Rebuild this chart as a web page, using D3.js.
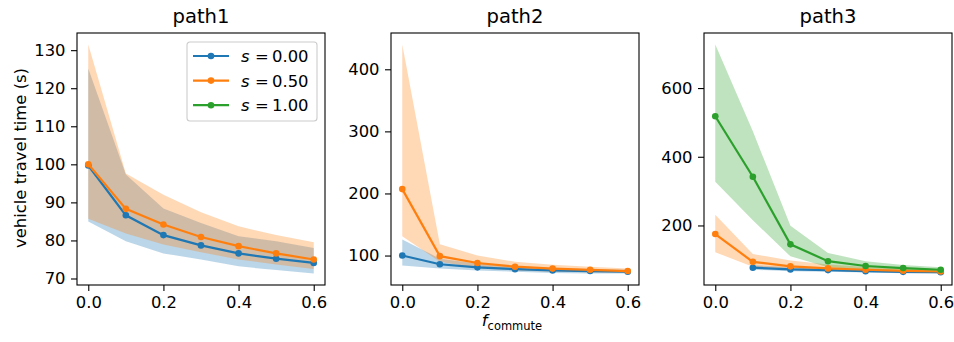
<!DOCTYPE html>
<html>
<head>
<meta charset="utf-8">
<script src="https://cdn.jsdelivr.net/npm/d3@7"></script>
<style>
  body { margin: 0; background: #fff; }
  text { font-family: "DejaVu Sans", sans-serif; fill: #000; }
</style>
</head>
<body>
<script>
// x values shared by every panel
const fCommute = [0, 0.1, 0.2, 0.3, 0.4, 0.5, 0.6];
const xTicks = [0, 0.2, 0.4, 0.6];

// path1
const p1_s0_mean = [99.7, 86.6, 81.4, 78.7, 76.6, 75.2, 74.1];
const p1_s0_lo   = [85.0, 79.8, 76.6, 75.0, 73.2, 72.2, 71.3];
const p1_s0_hi   = [125.2, 97.3, 88.4, 84.6, 81.1, 79.8, 78.0];
const p1_s5_mean = [100.0, 88.3, 84.2, 80.9, 78.5, 76.6, 75.0];
const p1_s5_lo   = [85.7, 81.8, 78.9, 76.9, 75.0, 73.7, 72.5];
const p1_s5_hi   = [131.5, 97.6, 92.0, 87.4, 83.7, 81.4, 79.5];
const p1_yTicks = [70, 80, 90, 100, 110, 120, 130];

// path2
const p2_s0_mean = [100, 86, 81, 78, 76, 75, 74];
const p2_s0_lo   = [84, 79, 76, 74, 72, 71, 71];
const p2_s0_hi   = [126, 95, 87, 83, 80, 78, 77];
const p2_s5_mean = [207, 99, 88, 82, 79, 77, 75];
const p2_s5_lo   = [131, 90, 80, 76, 74, 73, 72];
const p2_s5_hi   = [440, 118, 100, 90, 85, 82, 79];
const p2_yTicks = [100, 200, 300, 400];

// path3 (s=0 has no value at f=0)
const p3_s0_mean = [null, 77, 72, 70, 67, 65, 64];
const p3_s0_lo   = [null, 71, 67, 65, 63, 61, 60];
const p3_s0_hi   = [null, 84, 79, 76, 73, 70, 69];
const p3_s5_mean = [175, 94, 81, 75, 71, 68, 66];
const p3_s5_lo   = [122, 80, 72, 68, 65, 63, 61];
const p3_s5_hi   = [231, 117, 98, 86, 79, 75, 71];
const p3_s1_mean = [518, 342, 145, 96, 82, 76, 71];
const p3_s1_lo   = [327, 215, 110, 78, 72, 68, 65];
const p3_s1_hi   = [727, 474, 199, 120, 96, 85, 78];
const p3_yTicks = [200, 400, 600];

const seriesNames = ["0.00", "0.50", "1.00"];
const colors = ["#1f77b4", "#ff7f0e", "#2ca02c"];
const titles = ["path1", "path2", "path3"];

const W = 954, H = 342;
const axTop = 33, axBottom = 285;
const lefts = [77, 391, 704];
const axW = 248;
const fs = 16.4;   // tick / label size
const titleFs = 19.6;

const panels = [
  { series: [[p1_s0_mean, p1_s0_lo, p1_s0_hi, 0], [p1_s5_mean, p1_s5_lo, p1_s5_hi, 1]], yTicks: p1_yTicks },
  { series: [[p2_s0_mean, p2_s0_lo, p2_s0_hi, 0], [p2_s5_mean, p2_s5_lo, p2_s5_hi, 1]], yTicks: p2_yTicks },
  { series: [[p3_s0_mean, p3_s0_lo, p3_s0_hi, 0], [p3_s5_mean, p3_s5_lo, p3_s5_hi, 1], [p3_s1_mean, p3_s1_lo, p3_s1_hi, 2]], yTicks: p3_yTicks }
];

const svg = d3.select("body").append("svg")
  .attr("width", W).attr("height", H);

panels.forEach((p, k) => {
  const x0 = lefts[k];
  // matplotlib-like 5% margins
  const allV = p.series.flatMap(s => s[1].concat(s[2])).filter(v => v != null);
  const [vmin, vmax] = d3.extent(allV);
  const pad = (vmax - vmin) * 0.05;
  const x = d3.scaleLinear().domain([-0.03, 0.63]).range([x0, x0 + axW]);
  const y = d3.scaleLinear().domain([vmin - pad, vmax + pad]).range([axBottom, axTop]);

  const g = svg.append("g");

  const area = d3.area()
    .defined(d => d.lo != null)
    .x(d => x(d.x)).y0(d => y(d.lo)).y1(d => y(d.hi));
  const line = d3.line()
    .defined(d => d.m != null)
    .x(d => x(d.x)).y(d => y(d.m));

  // fills first, lines on top
  p.series.forEach(([m, lo, hi, ci]) => {
    const pts = fCommute.map((fx, i) => ({ x: fx, m: m[i], lo: lo[i], hi: hi[i] }));
    g.append("path").datum(pts)
      .attr("d", area)
      .attr("fill", colors[ci]).attr("fill-opacity", 0.3);
  });
  p.series.forEach(([m, lo, hi, ci]) => {
    const pts = fCommute.map((fx, i) => ({ x: fx, m: m[i] }));
    g.append("path").datum(pts)
      .attr("d", line)
      .attr("fill", "none").attr("stroke", colors[ci]).attr("stroke-width", 2.2);
    g.selectAll(null).data(pts.filter(d => d.m != null)).join("circle")
      .attr("cx", d => x(d.x)).attr("cy", d => y(d.m)).attr("r", 3.3)
      .attr("fill", colors[ci]);
  });

  // axes
  const xAxis = d3.axisBottom(x).tickValues(xTicks).tickFormat(d3.format(".1f")).tickSize(6).tickPadding(5.5);
  const yAxis = d3.axisLeft(y).tickValues(p.yTicks).tickSize(6).tickPadding(5.5);
  const gx = svg.append("g").attr("transform", `translate(0,${axBottom})`).call(xAxis);
  const gy = svg.append("g").attr("transform", `translate(${x0},0)`).call(yAxis);
  [gx, gy].forEach(a => {
    a.select(".domain").remove();
    a.selectAll("line").attr("stroke", "#000").attr("stroke-width", 1.1);
    a.selectAll("text").attr("font-size", fs).attr("font-family", "DejaVu Sans").attr("fill", "#000");
  });

  svg.append("rect")
    .attr("x", x0).attr("y", axTop).attr("width", axW).attr("height", axBottom - axTop)
    .attr("fill", "none").attr("stroke", "#000").attr("stroke-width", 1.1);

  svg.append("text")
    .attr("x", x0 + axW / 2).attr("y", 23)
    .attr("text-anchor", "middle").attr("font-size", titleFs)
    .text(titles[k]);
});

// y label
svg.append("text")
  .attr("transform", `translate(25.5,158) rotate(-90)`)
  .attr("text-anchor", "middle").attr("font-size", fs)
  .text("vehicle travel time (s)");

// x label
const xl = svg.append("text")
  .attr("x", lefts[1] + axW / 2 - 3).attr("y", 326)
  .attr("text-anchor", "middle").attr("font-size", fs);
xl.append("tspan").attr("font-style", "italic").text("f");
xl.append("tspan").attr("font-size", 11.5).attr("dy", 3.5).text("commute");

// legend
const leg = svg.append("g").attr("transform", "translate(187,42)");
leg.append("rect")
  .attr("width", 130).attr("height", 79).attr("rx", 3)
  .attr("fill", "#fff").attr("fill-opacity", 0.8)
  .attr("stroke", "#ccc").attr("stroke-width", 1.1);
seriesNames.forEach((s, i) => {
  const yy = 14 + i * 24.6;
  leg.append("line").attr("x1", 6).attr("x2", 42).attr("y1", yy).attr("y2", yy)
    .attr("stroke", colors[i]).attr("stroke-width", 2.2);
  leg.append("circle").attr("cx", 24).attr("cy", yy).attr("r", 3.3).attr("fill", colors[i]);
  const t = leg.append("text").attr("y", yy + 6).attr("font-size", fs);
  t.append("tspan").attr("x", 54).attr("font-style", "italic").text("s");
  t.append("tspan").attr("x", 68).text("=");
  t.append("tspan").attr("x", 85).text(s);
});
</script>
</body>
</html>
